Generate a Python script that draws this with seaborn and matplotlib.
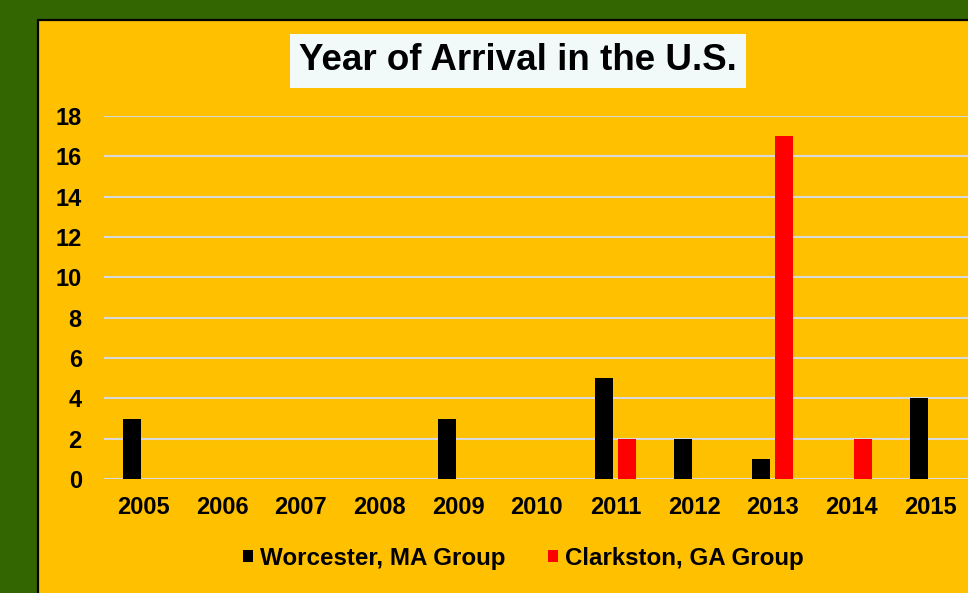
import matplotlib
matplotlib.use("Agg")
import matplotlib.pyplot as plt
from matplotlib.patches import Rectangle, Patch
import seaborn as sns
import pandas as pd

years = ["2005", "2006", "2007", "2008", "2009", "2010", "2011", "2012", "2013", "2014", "2015"]
worcester = [3, 0, 0, 0, 3, 0, 5, 2, 1, 0, 4]
clarkston = [0, 0, 0, 0, 0, 0, 2, 0, 17, 2, 0]
series_names = ["Worcester, MA Group", "Clarkston, GA Group"]
colors = ["#000000", "#FF0000"]
yticks = [0, 2, 4, 6, 8, 10, 12, 14, 16, 18]

df = pd.DataFrame({
    "Year": years * 2,
    "Count": worcester + clarkston,
    "Group": [series_names[0]] * len(years) + [series_names[1]] * len(years),
})

sns.set_theme(style="white")
plt.rcParams["font.family"] = ["Liberation Sans", "DejaVu Sans"]
plt.rcParams["font.weight"] = "bold"
plt.rcParams["text.color"] = "black"

fig = plt.figure(figsize=(9.68, 5.93), dpi=100)
fig.patch.set_facecolor("#336600")

# orange panel
W, H = 968, 593
panel = Rectangle((38 / W, 0 - 0.05), 1.1, 1 - 20 / H + 0.05, transform=fig.transFigure,
                  facecolor="#FFC000", edgecolor="#000000", linewidth=1.6, zorder=-5)
fig.patches.append(panel)

ax = fig.add_axes([104 / W, 1 - 479 / H, (969.4 - 104) / W, (479 - 116) / H])
ax.set_facecolor("none")
ax.set_zorder(2)

sns.barplot(data=df, x="Year", y="Count", hue="Group", palette=colors, saturation=1,
            width=0.572, gap=0.2, linewidth=0, ax=ax, legend=False, zorder=3)

ax.set_xlim(-0.5, 10.5)
ax.set_ylim(0, 18)
ax.set_yticks(yticks)
ax.set_yticklabels([str(v) for v in yticks])
ax.yaxis.grid(True, color="#D9D9D9", linewidth=1.5, zorder=1)
ax.set_axisbelow(True)
ax.xaxis.grid(False)
for s in ax.spines.values():
    s.set_visible(False)
ax.tick_params(axis="both", length=0, labelsize=17, colors="black")
ax.tick_params(axis="y", pad=16)
ax.tick_params(axis="x", pad=12)
for lab in ax.get_xticklabels() + ax.get_yticklabels():
    lab.set_fontweight("bold")
ax.set_xlabel("")
ax.set_ylabel("")

# title with white box
fig.text(518 / W, 1 - 61 / H, "Year of Arrival in the U.S.", ha="center", va="center",
         fontsize=26.5, fontweight="bold", color="black",
         bbox=dict(boxstyle="square,pad=0.25", facecolor="#F2F9F9", edgecolor="none"))

handles = [Patch(facecolor=c, edgecolor="none") for c in colors]
fig.legend(handles, series_names, loc="center", bbox_to_anchor=(523.5 / W, 1 - 558 / H),
           ncol=2, frameon=False, handlelength=0.42, handleheight=0.42,
           handletextpad=0.3, columnspacing=1.74, labelcolor="black",
           prop={"weight": "bold", "size": 17.4})

fig.savefig("out.png", dpi=100, facecolor=fig.get_facecolor())
